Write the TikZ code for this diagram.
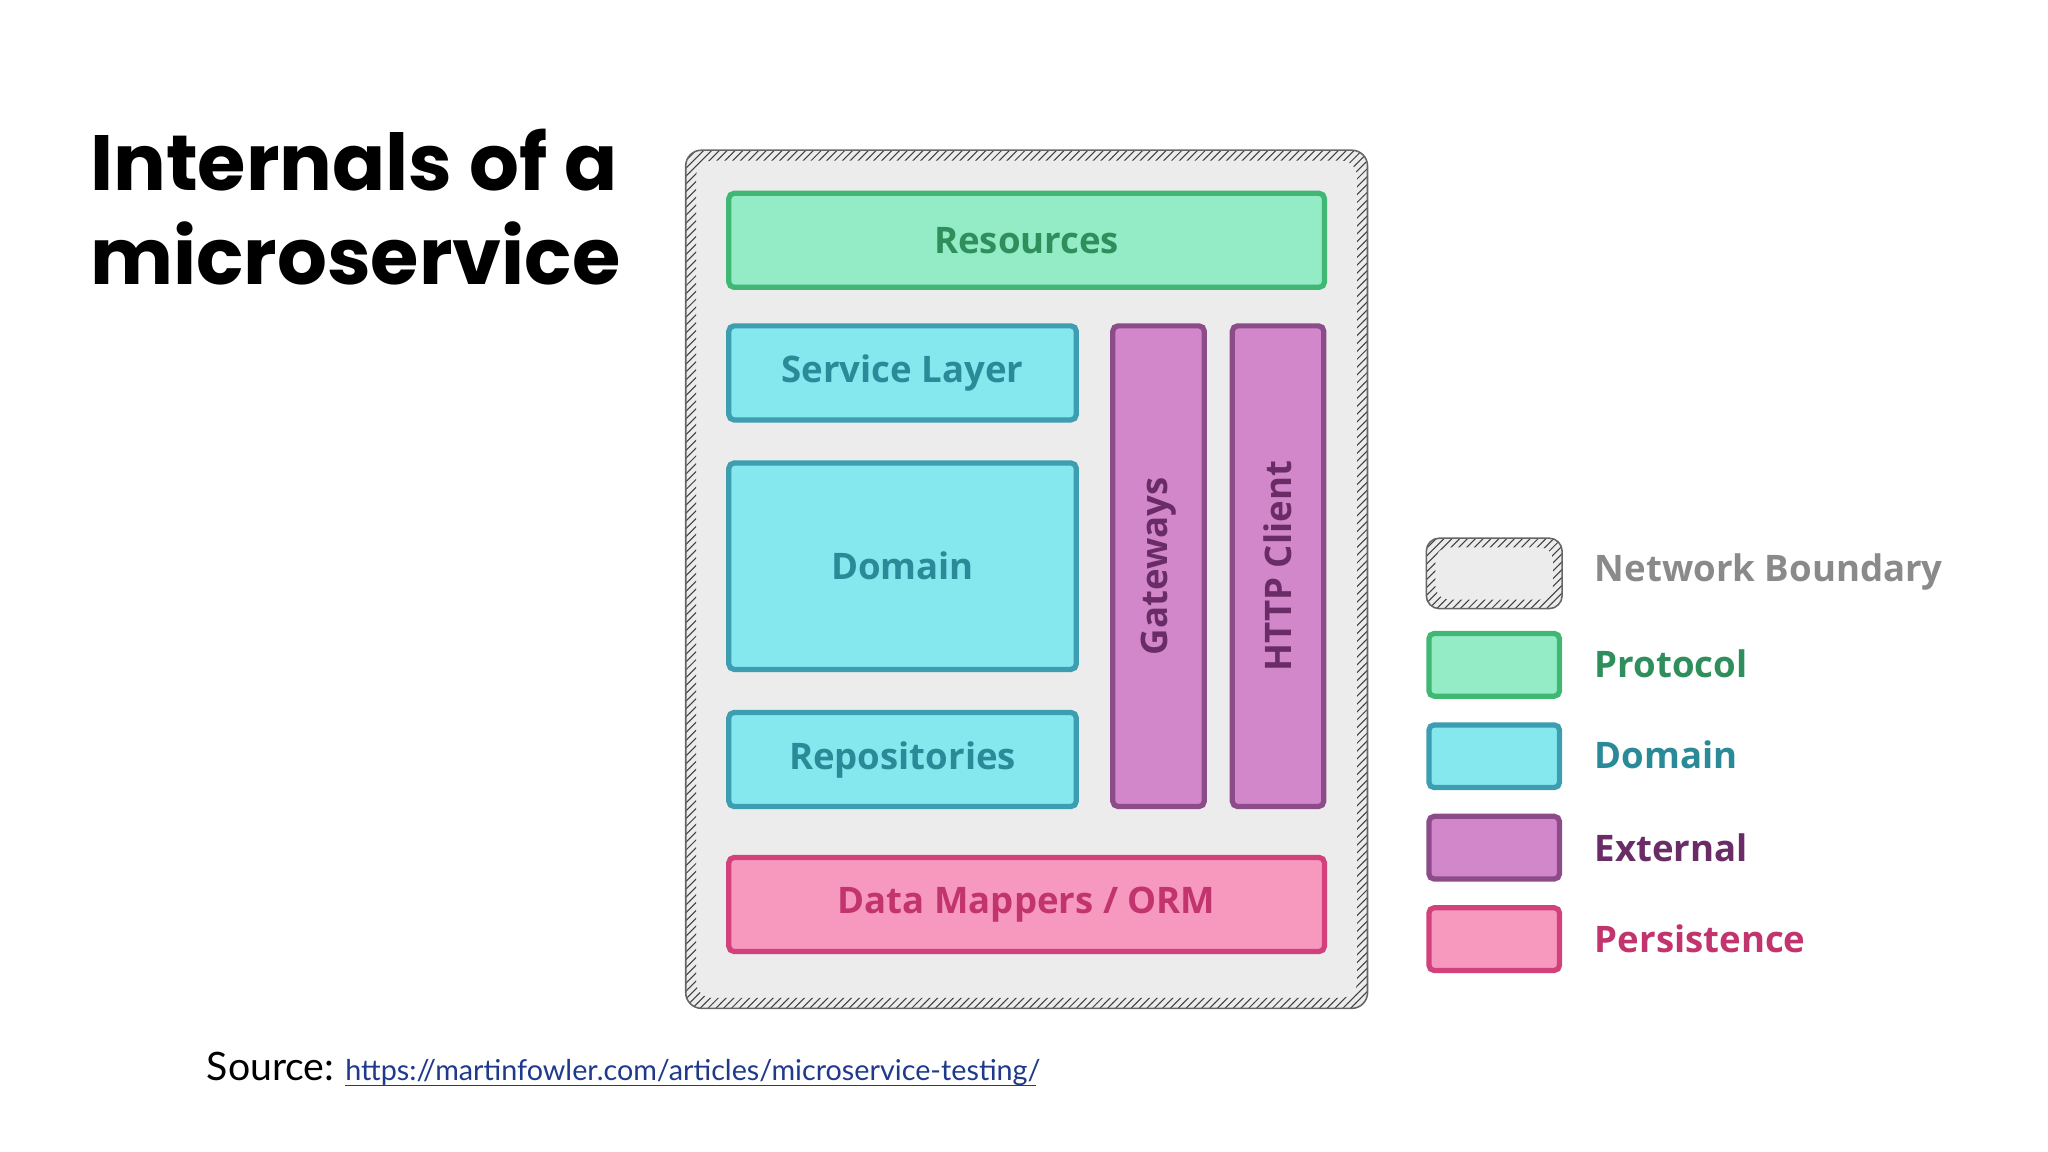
\documentclass[tikz,border=0pt]{standalone}
\usepackage{fontspec}
\setmainfont{Open Sans}
\newfontfamily\titlefont{Poppins}
\newfontfamily\srcfont{Lato}
\usetikzlibrary{patterns}
\definecolor{protoF}{HTML}{94ECC6}\definecolor{protoD}{HTML}{40B874}\definecolor{protoT}{HTML}{2E8F5C}
\definecolor{domF}{HTML}{86E8EF}\definecolor{domD}{HTML}{3C9EB0}\definecolor{domT}{HTML}{2A8A98}
\definecolor{extF}{HTML}{D287CB}\definecolor{extD}{HTML}{8C4C8A}\definecolor{extT}{HTML}{6A2C66}
\definecolor{perF}{HTML}{F799BF}\definecolor{perD}{HTML}{D2417C}\definecolor{perT}{HTML}{C2346D}
\definecolor{netF}{HTML}{ECECEC}\definecolor{netT}{HTML}{8A8A8A}
\definecolor{linkC}{HTML}{1F3A8A}
\begin{document}
\begin{tikzpicture}[x=0.5pt,y=-0.5pt,
  box/.style={draw=#1D,fill=#1F,line width=2pt,rounded corners=2pt,text=#1T,font=\bfseries\fontsize{14}{16}\selectfont},
  leg/.style={box=#1,minimum width=50pt,minimum height=24pt},
  legt/.style={anchor=west,text=#1T,font=\bfseries\fontsize{14}{16}\selectfont}]
\useasboundingbox (0,0) rectangle (1568,882);
% network boundary
\fill[netF,rounded corners=6pt] (525,115) rectangle (1047,772);
\fill[pattern=north east lines,pattern color=black!75,even odd rule,rounded corners=6pt]
  (525,115) rectangle (1047,772) (533,123) rectangle (1039,764);
\draw[black!60,line width=0.6pt,rounded corners=6pt] (525,115) rectangle (1047,772);
% inner boxes
\node[box=proto,minimum width=228pt,minimum height=36pt] (res) at (786,184) {Resources};
\node[box=dom,minimum width=133pt,minimum height=36pt] (svc) at (691,285.5) {Service Layer};
\node[box=dom,minimum width=133pt,minimum height=79pt] (dom) at (691,433.5) {Domain};
\node[box=dom,minimum width=133pt,minimum height=36pt] (rep) at (691,581.5) {Repositories};
\node[box=ext,minimum width=35pt,minimum height=184pt] (gw) at (887,433.5) {};
\node[rotate=90,text=extT,font=\bfseries\fontsize{14}{16}\selectfont] (gwl) at (gw.center) {Gateways};
\node[box=ext,minimum width=35pt,minimum height=184pt] (http) at (978.5,433.5) {};
\node[rotate=90,text=extT,font=\bfseries\fontsize{14}{16}\selectfont] (httpl) at (http.center) {HTTP Client};
\node[box=per,minimum width=228pt,minimum height=36pt] (orm) at (786,692.5) {Data Mappers / ORM};
% legend
\fill[netF,rounded corners=5pt] (1092,412) rectangle (1196,466);
\fill[pattern=north east lines,pattern color=black!75,even odd rule,rounded corners=5pt]
  (1092,412) rectangle (1196,466) (1099,419) rectangle (1189,459);
\draw[black!60,line width=0.6pt,rounded corners=5pt] (1092,412) rectangle (1196,466);
\node[legt=net] (l1) at (1214,438) {Network Boundary};
\node[leg=proto] (b2) at (1144,509) {};\node[legt=proto] (l2) at (1214,508) {Protocol};
\node[leg=dom] (b3) at (1144,579) {};\node[legt=dom] (l3) at (1214,578) {Domain};
\node[leg=ext] (b4) at (1144,649) {};\node[legt=ext] (l4) at (1214,649) {External};
\node[leg=per] (b5) at (1144,719) {};\node[legt=per] (l5) at (1214,719) {Persistence};
% title and source
\node[anchor=north west,align=left,font=\titlefont\bfseries\fontsize{30}{36}\selectfont] (title) at (62,92) {Internals of a\\microservice};
\node[anchor=base west,font=\srcfont\fontsize{15}{18}\selectfont,inner sep=0pt] (src) at (158,827) {Source:};
\node[anchor=base west,font=\srcfont\fontsize{11}{13}\selectfont,text=linkC,inner sep=0pt] (url) at (264,827) {https://martinfowler.com/articles/microservice-testing/};
\draw[linkC,line width=0.5pt] (264,831) -- (793,831);
\end{tikzpicture}
\end{document}
